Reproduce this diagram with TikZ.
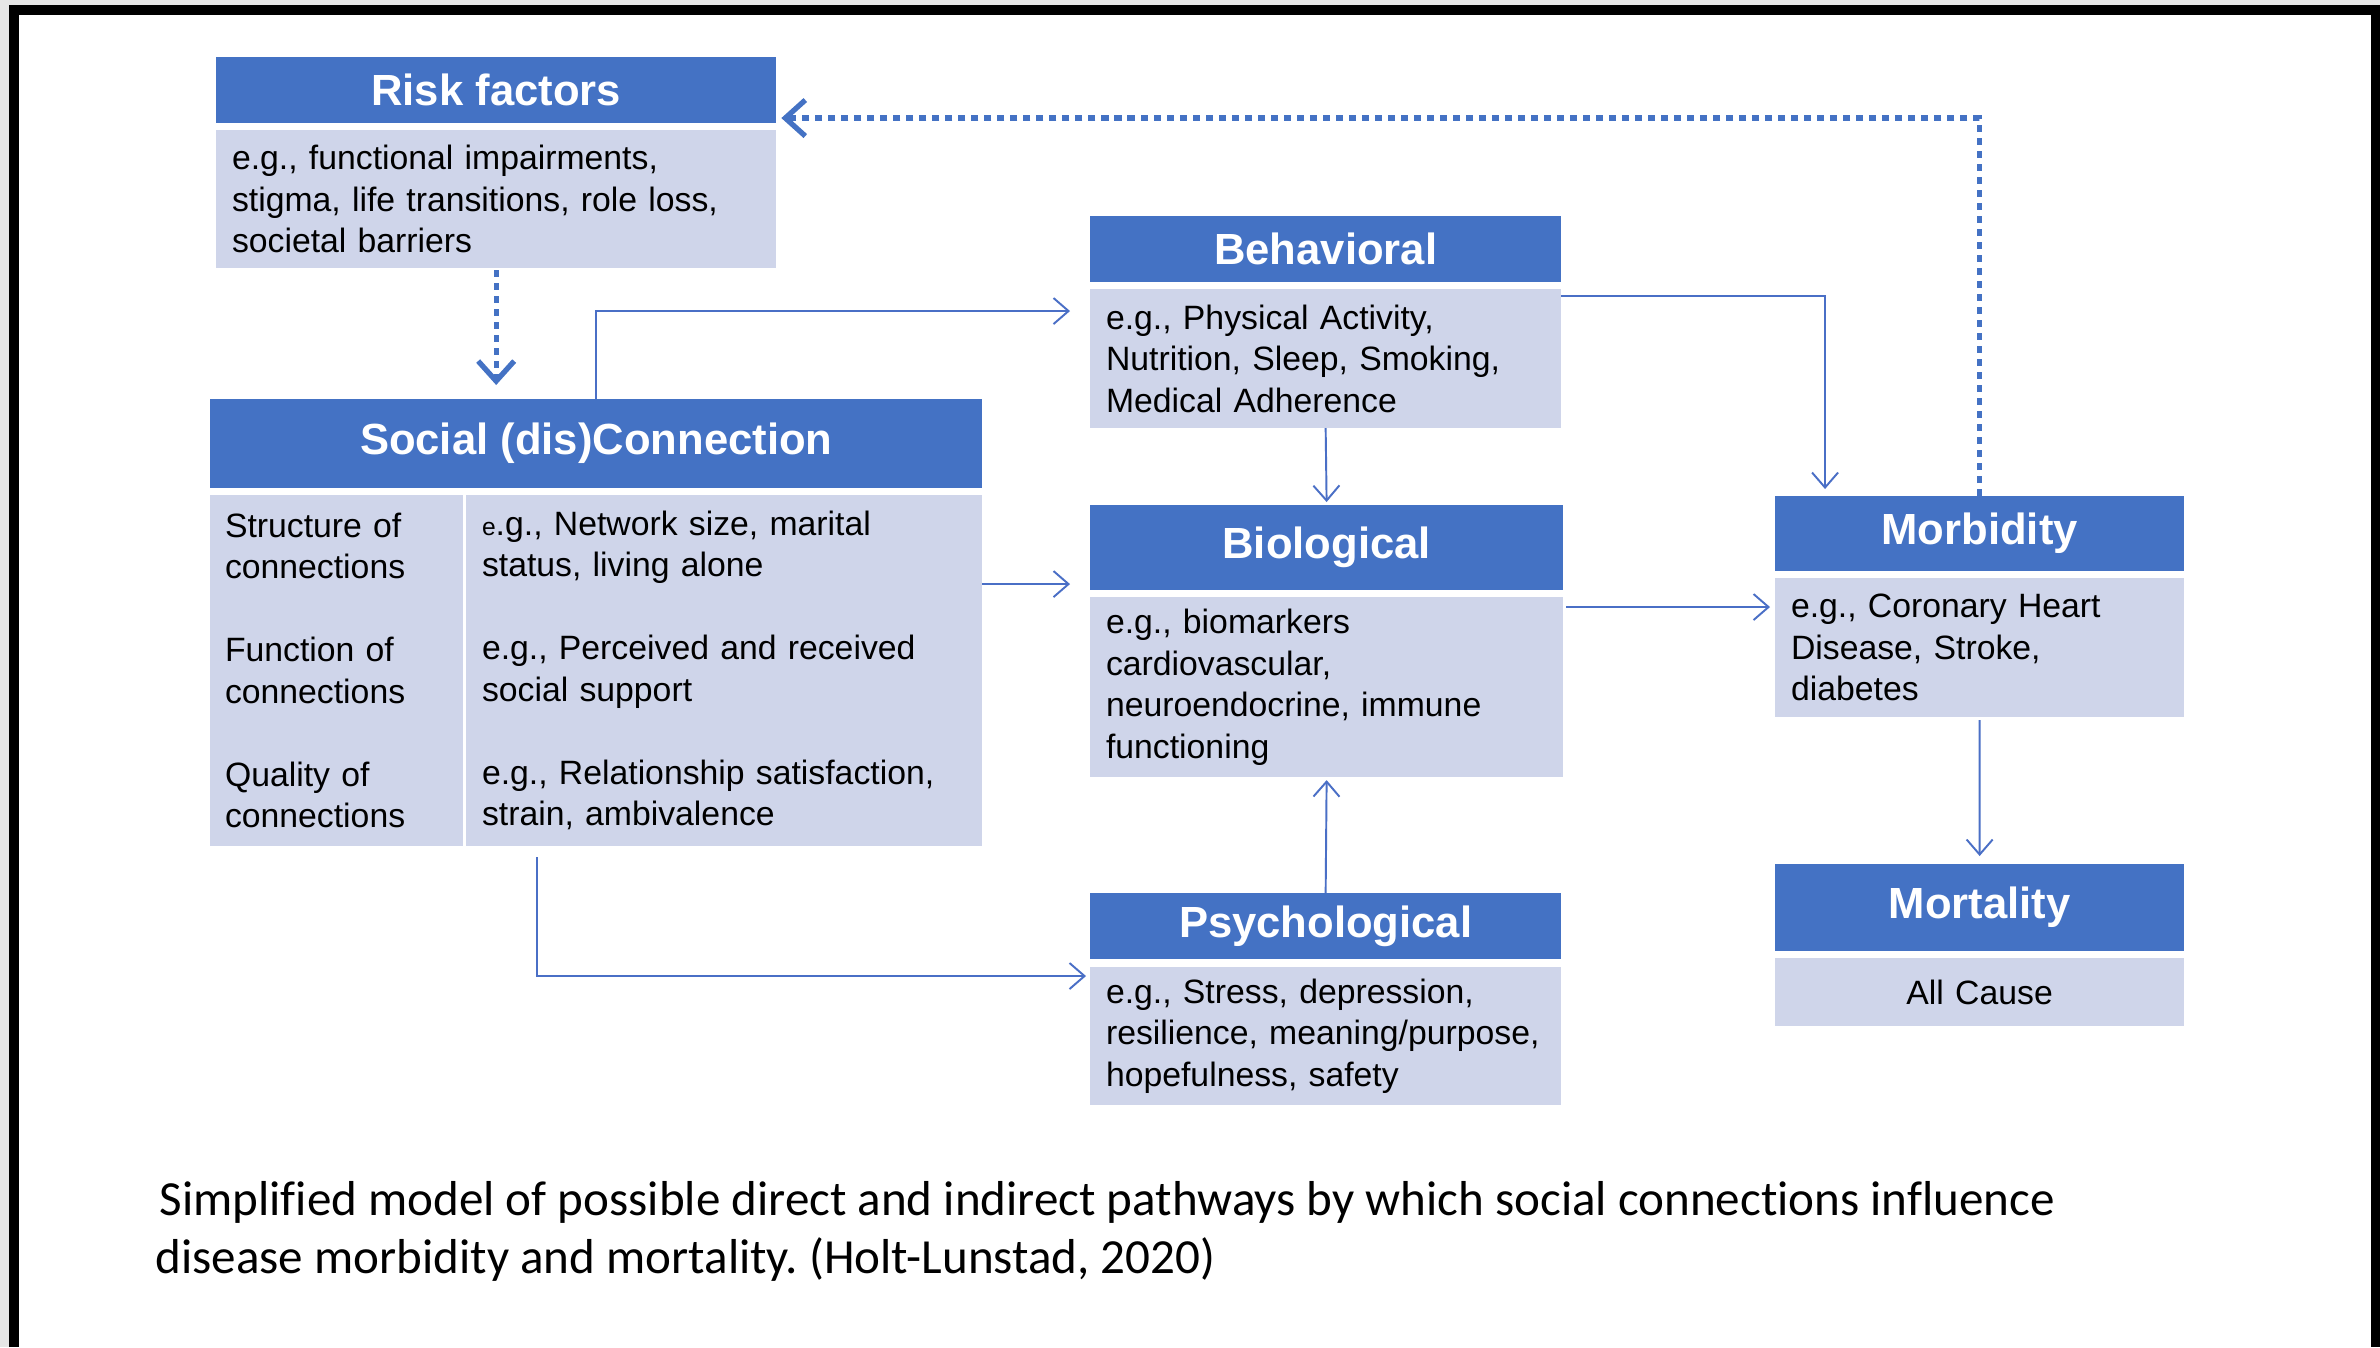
\documentclass[tikz,border=0pt]{standalone}
\usepackage{fontspec}
\setmainfont{Liberation Sans}
\newfontfamily\capfont[Ligatures=NoCommon]{Carlito}
\usetikzlibrary{arrows.meta}
\frenchspacing

\definecolor{hdblue}{HTML}{4472C4}
\definecolor{bdlav}{HTML}{CFD5EA}
\definecolor{lnblue}{HTML}{4A6FC6}
\definecolor{edgegray}{HTML}{E6E6E6}

\begin{document}
\begin{tikzpicture}[x=0.01cm, y=-0.01cm]
  % Base settings
  \tikzset{
    hdr/.style={fill=hdblue, text=white, font=\fontsize{12.4}{14}\selectfont\bfseries,
      anchor=north west, inner sep=0pt, outer sep=0pt},
    bdy/.style={fill=bdlav, font=\fontsize{9.6}{11.8}\selectfont, align=left,
      anchor=north west, inner xsep=0.16cm, inner ysep=0pt, outer sep=0pt},
    conn/.style={draw=lnblue, line width=0.55pt,
      -{Straight Barb[length=1.5mm, width=2.6mm]}},
    dotconn/.style={draw=hdblue, line width=1.5pt, dash pattern=on 2pt off 1.7pt,
      -{Straight Barb[length=2mm, width=3.6mm]}},
    captext/.style={anchor=base west, inner sep=0pt,
      font=\capfont\fontsize{13.95}{16.5}\selectfont}
  }

  % --- Frame ---
  \fill[edgegray] (0,0) rectangle (2380,1347);
  \fill[black] (9,5) rectangle (2380,1347);
  \fill[white] (19,15) rectangle (2371,1347);
  \useasboundingbox (0,0) rectangle (2380,1347);

  % --- Risk factors ---
  \node[hdr, minimum width=5.60cm, minimum height=0.66cm] (riskh) at (216,57) {Risk factors};
  \node[bdy, text width=5.28cm, minimum height=1.38cm] (riskb) at (216,130)
    {e.g., functional impairments,\\stigma, life transitions, role loss,\\societal barriers};

  % --- Social (dis)Connection ---
  \node[hdr, minimum width=7.72cm, minimum height=0.89cm] (soch) at (210,399) {Social (dis)Connection};
  \node[bdy, inner xsep=0.15cm, text width=2.23cm, minimum height=3.51cm] (socl) at (210,495)
    {Structure of\\connections\\[0.415cm]Function of\\connections\\[0.415cm]Quality of\\connections};
  \node[bdy, text width=4.84cm, minimum height=3.51cm] (socr) at (466,495)
    {{\fontsize{7}{8}\selectfont e}.g., Network size, marital\\status, living alone\\[0.415cm]%
     e.g., Perceived and received\\social support\\[0.415cm]%
     e.g., Relationship satisfaction,\\strain, ambivalence};

  % --- Pathways ---
  \node[hdr, minimum width=4.71cm, minimum height=0.66cm] (behh) at (1090,216) {Behavioral};
  \node[bdy, text width=4.39cm, minimum height=1.39cm] (behb) at (1090,289)
    {e.g., Physical Activity,\\Nutrition, Sleep, Smoking,\\Medical Adherence};

  \node[hdr, minimum width=4.73cm, minimum height=0.85cm] (bioh) at (1090,505) {Biological};
  \node[bdy, text width=4.41cm, minimum height=1.80cm] (biob) at (1090,597)
    {e.g., biomarkers\\cardiovascular,\\neuroendocrine, immune\\functioning};

  \node[hdr, minimum width=4.71cm, minimum height=0.66cm] (psyh) at (1090,893) {Psychological};
  \node[bdy, text width=4.39cm, minimum height=1.38cm] (psyb) at (1090,967)
    {e.g., Stress, depression,\\resilience, meaning/purpose,\\hopefulness, safety};

  % --- Outcomes ---
  \node[hdr, minimum width=4.09cm, minimum height=0.75cm] (morbh) at (1775,496) {Morbidity};
  \node[bdy, text width=3.77cm, minimum height=1.39cm] (morbb) at (1775,578)
    {e.g., Coronary Heart\\Disease, Stroke,\\diabetes};

  \node[hdr, minimum width=4.09cm, minimum height=0.87cm] (morth) at (1775,864) {Mortality};
  \node[bdy, align=center, text width=3.77cm, minimum height=0.68cm] (mortb) at (1775,958) {All Cause};

  % --- Arrow end points ---
  \coordinate (riskin) at ([yshift=0.05cm]riskh.south east);
  \coordinate (behin) at ([yshift=-0.22cm]behb.north west);
  \coordinate (behout) at ([yshift=-0.07cm]behb.north east);
  \coordinate (bioin) at ([yshift=0.06cm]bioh.south west);
  \coordinate (bioout) at ([yshift=-0.10cm]biob.north east);
  \coordinate (socout) at ([xshift=0.71cm]socr.south west);
  \coordinate (psyin) at ([yshift=-0.09cm]psyb.north west);
  \coordinate (morbin) at ([xshift=0.50cm]morbh.north west);

  % --- Dotted feedback ---
  \draw[dotconn, shorten <=0.02cm, shorten >=0.14cm] (riskb.south) -- (riskb.south |- soch.north);
  \draw[dotconn, shorten >=0.05cm] (morbh.north) |- (riskin);

  % --- Pathway arrows ---
  \draw[conn, shorten >=0.2cm] (soch.north) |- (behin);
  \draw[conn, shorten >=0.2cm] (socr.east |- bioin) -- (bioin);
  \draw[conn, shorten <=0.11cm, shorten >=0.04cm] (socout) |- (psyin);
  \draw[conn, shorten >=0.03cm] (behb.south) -- (bioh.north);
  \draw[conn, shorten >=0.07cm] (behout) -| (morbin);
  \draw[conn, shorten >=0.03cm] (psyh.north) -- (biob.south);
  \draw[conn, shorten <=0.03cm, shorten >=0.05cm] (bioout) -- (bioout -| morbb.west);
  \draw[conn, shorten <=0.03cm, shorten >=0.08cm] (morbb.south) -- (morth.north);

  % --- Caption ---
  \node[captext] (capa) at (159,1215)
    {Simplified model of possible direct and indirect pathways by which social connections influence};
  \node[captext] (capb) at (155,1273)
    {disease morbidity and mortality. (Holt-Lunstad, 2020)};
\end{tikzpicture}
\end{document}
